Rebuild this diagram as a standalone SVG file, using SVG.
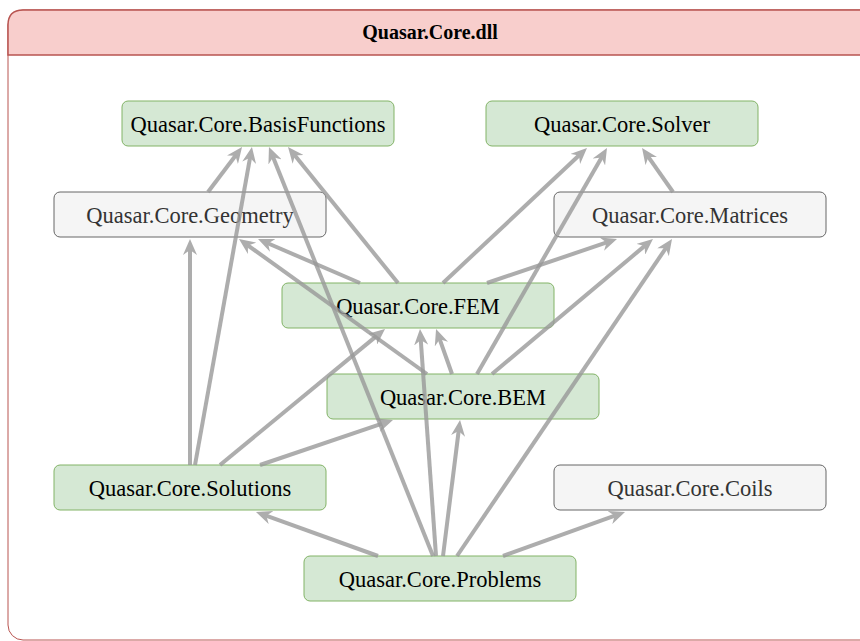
<svg xmlns="http://www.w3.org/2000/svg" width="860" height="641" viewBox="0 0 860 641">
  <style>
    .node rect { stroke-width: 1; }
    .green rect { fill: #d5e8d4; stroke: #82b366; }
    .grey rect { fill: #f5f5f5; stroke: #666666; }
    .node text { font-family: "Liberation Serif", "Times New Roman", serif; font-size: 22.5px; text-anchor: middle; }
    .green text { fill: #000000; }
    .grey text { fill: #333333; }
    .title { font-family: "Liberation Serif", "Times New Roman", serif; font-size: 20px; font-weight: bold; text-anchor: middle; fill: #000000; }
    .edge { fill: none; stroke: #999999; stroke-width: 4; opacity: 0.8; marker-end: url(#arrow); }
  </style>
  <defs>
    <marker id="arrow" markerUnits="userSpaceOnUse" markerWidth="16" markerHeight="14" refX="6" refY="7" orient="auto">
      <path d="M0,0 L16,7 L0,14 L5,7 Z" fill="#999999"/>
    </marker>
  </defs>

  <!-- container -->
  <g id="container">
    <rect x="8" y="10" width="875" height="630" rx="15" ry="15" fill="#ffffff" stroke="#b85450" stroke-width="1"/>
    <path d="M8,55 V25 Q8,10 23,10 H883 V55 Z" fill="#f8cecc" stroke="#b85450" stroke-width="1.5"/>
    <text class="title" x="430" y="39">Quasar.Core.dll</text>
  </g>

  <!-- nodes -->
  <g id="basisfunctions" class="node green">
    <rect x="122" y="101" width="272" height="45" rx="6"/>
    <text x="258" y="131.5">Quasar.Core.BasisFunctions</text>
  </g>
  <g id="solver" class="node green">
    <rect x="486" y="101" width="272" height="45" rx="6"/>
    <text x="622" y="131.5">Quasar.Core.Solver</text>
  </g>
  <g id="geometry" class="node grey">
    <rect x="54" y="192" width="272" height="45" rx="6"/>
    <text x="190" y="222.5">Quasar.Core.Geometry</text>
  </g>
  <g id="matrices" class="node grey">
    <rect x="554" y="192" width="272" height="45" rx="6"/>
    <text x="690" y="222.5">Quasar.Core.Matrices</text>
  </g>
  <g id="fem" class="node green">
    <rect x="282" y="283" width="272" height="45" rx="6"/>
    <text x="418" y="313.5">Quasar.Core.FEM</text>
  </g>
  <g id="bem" class="node green">
    <rect x="327" y="374" width="272" height="45" rx="6"/>
    <text x="463" y="404.5">Quasar.Core.BEM</text>
  </g>
  <g id="solutions" class="node green">
    <rect x="54" y="465" width="272" height="45" rx="6"/>
    <text x="190" y="495.5">Quasar.Core.Solutions</text>
  </g>
  <g id="coils" class="node grey">
    <rect x="554" y="465" width="272" height="45" rx="6"/>
    <text x="690" y="495.5">Quasar.Core.Coils</text>
  </g>
  <g id="problems" class="node green">
    <rect x="304" y="556" width="272" height="45" rx="6"/>
    <text x="440" y="586.5">Quasar.Core.Problems</text>
  </g>

  <!-- connectors (dependency arrows) -->
  <g id="connectors">
    <path class="edge" d="M208,192 L236,155"/>
    <path class="edge" d="M195,465 L250.2,156.8"/>
    <path class="edge" d="M433,556 L272.7,156.3"/>
    <path class="edge" d="M398,283 L294.3,154.8"/>
    <path class="edge" d="M360,283 L267.2,243"/>
    <path class="edge" d="M427,374 L247.1,244.8"/>
    <path class="edge" d="M190,465 L190,249"/>
    <path class="edge" d="M443,283 L579.7,154.8"/>
    <path class="edge" d="M477,374 L602,156.7"/>
    <path class="edge" d="M673,192 L647.8,156.2"/>
    <path class="edge" d="M487,283 L607.5,242.2"/>
    <path class="edge" d="M492,374 L645.3,245.4"/>
    <path class="edge" d="M457,556 L666.4,247.3"/>
    <path class="edge" d="M220,465 L377.3,335.4"/>
    <path class="edge" d="M452,374 L439.4,338.4"/>
    <path class="edge" d="M436,556 L420.7,339"/>
    <path class="edge" d="M260,465 L383.5,423.2"/>
    <path class="edge" d="M443,556 L458.8,429.9"/>
    <path class="edge" d="M378,556 L265.4,515.4"/>
    <path class="edge" d="M503,556 L615.6,515.4"/>
  </g>
</svg>
